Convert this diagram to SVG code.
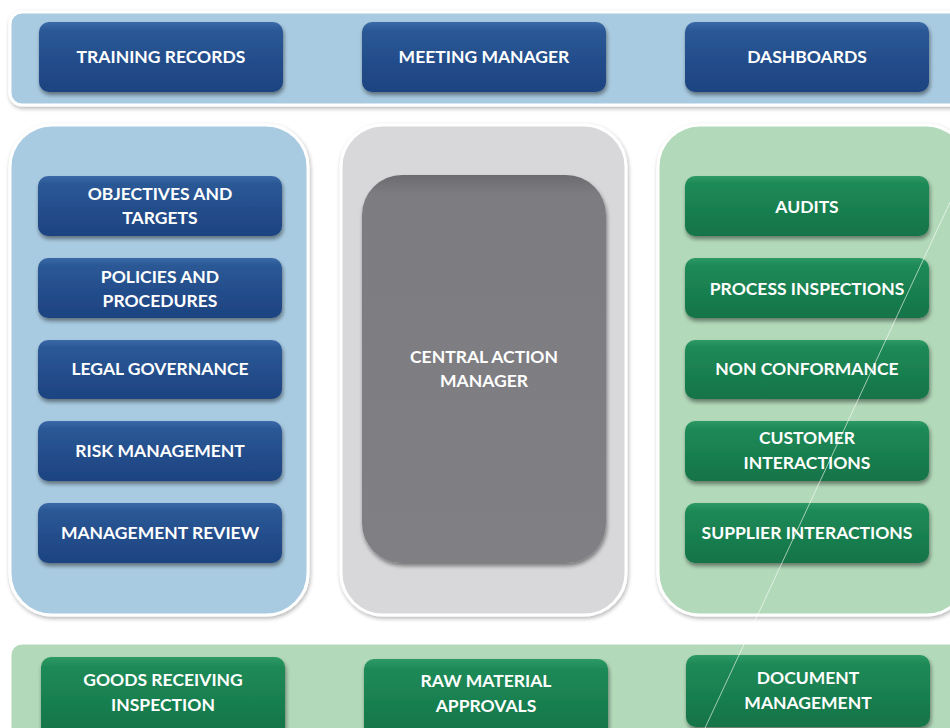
<svg xmlns="http://www.w3.org/2000/svg" width="950" height="728" viewBox="0 0 950 728">
<defs>
<linearGradient id="gBlue" x1="0" y1="0" x2="0" y2="1">
<stop offset="0" stop-color="#3a6aa8"/>
<stop offset="0.12" stop-color="#2b5996"/>
<stop offset="0.6" stop-color="#234c8a"/>
<stop offset="1" stop-color="#1d4380"/>
</linearGradient>
<linearGradient id="gGreen" x1="0" y1="0" x2="0" y2="1">
<stop offset="0" stop-color="#2e9a66"/>
<stop offset="0.12" stop-color="#1f8a57"/>
<stop offset="0.6" stop-color="#187e4f"/>
<stop offset="1" stop-color="#137348"/>
</linearGradient>
<linearGradient id="gGray" x1="0" y1="0" x2="0" y2="1">
<stop offset="0" stop-color="#6c6b70"/>
<stop offset="0.05" stop-color="#7d7c81"/>
<stop offset="1" stop-color="#807f84"/>
</linearGradient>
<filter id="sh" x="-10%" y="-10%" width="120%" height="130%">
<feGaussianBlur in="SourceAlpha" stdDeviation="2"/>
<feOffset dx="1" dy="3"/>
<feComponentTransfer><feFuncA type="linear" slope="0.45"/></feComponentTransfer>
<feMerge><feMergeNode/><feMergeNode in="SourceGraphic"/></feMerge>
</filter>
<filter id="psh" x="-10%" y="-10%" width="120%" height="120%">
<feGaussianBlur in="SourceAlpha" stdDeviation="2"/>
<feOffset dx="1" dy="2"/>
<feComponentTransfer><feFuncA type="linear" slope="0.3"/></feComponentTransfer>
<feMerge><feMergeNode/><feMergeNode in="SourceGraphic"/></feMerge>
</filter>
</defs>
<style>
.panel{stroke:#ffffff;stroke-width:3}
.blue{fill:#a9cbe1}
.gray{fill:#d8d8da}
.lgreen{fill:#b2d9b9}
.bb{fill:url(#gBlue)}
.gb{fill:url(#gGreen)}
.t{font-family:Lato,"Liberation Sans",sans-serif;font-weight:bold;font-size:17.5px;fill:#ffffff;text-anchor:middle}
</style>
<rect width="950" height="728" fill="#ffffff"/>

<g id="top-band"><rect class="panel blue" x="10" y="12" width="960" height="93" rx="12" filter="url(#psh)"/></g>
<g id="left-panel"><rect class="panel blue" x="10" y="125" width="298" height="490" rx="42" filter="url(#psh)"/></g>
<g id="center-panel"><rect class="panel gray" x="341" y="125" width="285" height="490" rx="42" filter="url(#psh)"/></g>
<g id="right-panel"><rect class="panel lgreen" x="658" y="125" width="310" height="490" rx="42" filter="url(#psh)"/></g>
<g id="bottom-band"><rect class="panel lgreen" x="10" y="643" width="960" height="110" rx="12"/></g>

<g id="training-records"><rect class="bb" x="39" y="22" width="244" height="70" rx="10" filter="url(#sh)"/><text class="t" x="161" y="63">TRAINING RECORDS</text></g>
<g id="meeting-manager"><rect class="bb" x="362" y="22" width="244" height="70" rx="10" filter="url(#sh)"/><text class="t" x="484" y="63">MEETING MANAGER</text></g>
<g id="dashboards"><rect class="bb" x="685" y="22" width="244" height="70" rx="10" filter="url(#sh)"/><text class="t" x="807" y="63">DASHBOARDS</text></g>

<g id="objectives"><rect class="bb" x="38" y="176" width="244" height="60" rx="10" filter="url(#sh)"/><text class="t" x="160" y="200">OBJECTIVES AND</text><text class="t" x="160" y="224">TARGETS</text></g>
<g id="policies"><rect class="bb" x="38" y="258" width="244" height="60" rx="10" filter="url(#sh)"/><text class="t" x="160" y="283">POLICIES AND</text><text class="t" x="160" y="307">PROCEDURES</text></g>
<g id="legal"><rect class="bb" x="38" y="340" width="244" height="59" rx="10" filter="url(#sh)"/><text class="t" x="160" y="375">LEGAL GOVERNANCE</text></g>
<g id="risk"><rect class="bb" x="38" y="421" width="244" height="60" rx="10" filter="url(#sh)"/><text class="t" x="160" y="457">RISK MANAGEMENT</text></g>
<g id="mgmt-review"><rect class="bb" x="38" y="503" width="244" height="60" rx="10" filter="url(#sh)"/><text class="t" x="160" y="539">MANAGEMENT REVIEW</text></g>

<g id="central-action-manager"><rect x="362" y="175" width="244" height="388" rx="40" fill="url(#gGray)" filter="url(#sh)"/><text class="t" x="484" y="363">CENTRAL ACTION</text><text class="t" x="484" y="387">MANAGER</text></g>

<g id="audits"><rect class="gb" x="685" y="176" width="244" height="60" rx="10" filter="url(#sh)"/><text class="t" x="807" y="213">AUDITS</text></g>
<g id="process-inspections"><rect class="gb" x="685" y="258" width="244" height="60" rx="10" filter="url(#sh)"/><text class="t" x="807" y="295">PROCESS INSPECTIONS</text></g>
<g id="non-conformance"><rect class="gb" x="685" y="340" width="244" height="59" rx="10" filter="url(#sh)"/><text class="t" x="807" y="375">NON CONFORMANCE</text></g>
<g id="customer-interactions"><rect class="gb" x="685" y="421" width="244" height="60" rx="10" filter="url(#sh)"/><text class="t" x="807" y="444">CUSTOMER</text><text class="t" x="807" y="469">INTERACTIONS</text></g>
<g id="supplier-interactions"><rect class="gb" x="685" y="503" width="244" height="60" rx="10" filter="url(#sh)"/><text class="t" x="807" y="539">SUPPLIER INTERACTIONS</text></g>

<g id="goods-receiving"><rect class="gb" x="41" y="657" width="244" height="80" rx="10" filter="url(#sh)"/><text class="t" x="163" y="686">GOODS RECEIVING</text><text class="t" x="163" y="711">INSPECTION</text></g>
<g id="raw-material"><rect class="gb" x="364" y="659" width="244" height="80" rx="10" filter="url(#sh)"/><text class="t" x="486" y="687">RAW MATERIAL</text><text class="t" x="486" y="712">APPROVALS</text></g>
<g id="document-management"><rect class="gb" x="686" y="655" width="244" height="72" rx="10" filter="url(#sh)"/><text class="t" x="808" y="684">DOCUMENT</text><text class="t" x="808" y="709">MANAGEMENT</text></g>

<g id="connectors"></g>
<line x1="952" y1="198" x2="705" y2="728" stroke="#ffffff" stroke-width="1" stroke-opacity="0.6"/>
</svg>
